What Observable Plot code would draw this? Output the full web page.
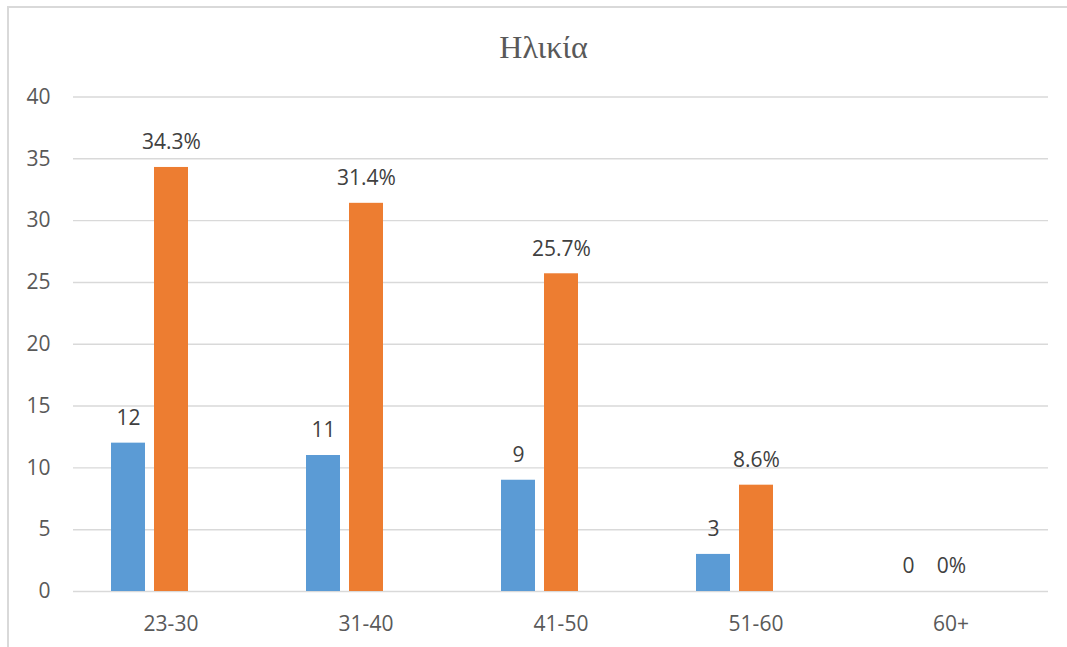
<!DOCTYPE html>
<html>
<head>
<meta charset="utf-8">
<script src="https://cdn.jsdelivr.net/npm/d3@7"></script>
<script src="https://cdn.jsdelivr.net/npm/@observablehq/plot@0.6"></script>
<style>
  body { margin: 0; background: #fff; }
  #wrap { position: relative; width: 1067px; height: 647px; overflow: hidden; background: #fff; }
  #frame { position: absolute; left: 7px; top: 6px; width: 1200px; height: 800px;
           border-top: 2px solid #d9d9d9; border-left: 2px solid #d9d9d9; box-sizing: border-box; }
  #title { position: relative; height: 39px; padding-top: 31px; padding-left: 20px; text-align: center;
           font-family: "Liberation Serif", serif; font-size: 32px; line-height: 32px; color: #595959; }
  #chart { position: relative; }
</style>
</head>
<body>
<div id="wrap">
  <div id="frame"></div>
  <div id="title">Ηλικία</div>
  <div id="chart"></div>
</div>
<script>
const categories = ["23-30", "31-40", "41-50", "51-60", "60+"];
const counts = [12, 11, 9, 3, 0];
const percents = [34.3, 31.4, 25.7, 8.6, 0];
const seriesNames = ["Αριθμός", "Ποσοστό", " "];
const yTicks = [0, 5, 10, 15, 20, 25, 30, 35, 40];
const colors = ["#5B9BD5", "#ED7D31", "#A5A5A5"];

const data = [];
categories.forEach((c, i) => {
  data.push({cat: c, series: seriesNames[0], value: counts[i], label: String(counts[i])});
  data.push({cat: c, series: seriesNames[1], value: percents[i], label: percents[i] + "%"});
});

const chart = Plot.plot({
  width: 1067,
  height: 577,
  marginTop: 26.5,
  marginBottom: 56,
  marginLeft: 72,
  marginRight: 19,
  style: {fontFamily: "'Open Sans', sans-serif", fontSize: "21px", color: "#595959", background: "transparent"},
  fx: {domain: categories, padding: 0, label: null},
  x: {domain: seriesNames, paddingInner: 0.215, paddingOuter: 0.85, axis: null},
  y: {domain: [0, 40], label: null},
  color: {domain: seriesNames, range: colors},
  marks: [
    Plot.ruleY(yTicks, {stroke: "#d9d9d9", strokeWidth: 1.4}),
    Plot.barY(data, {fx: "cat", x: "series", y: "value", fill: "series"}),
    Plot.text(data, {fx: "cat", x: "series", y: "value", text: "label", dy: -25, fill: "#404040"}),
    Plot.axisY(yTicks, {tickSize: 0, tickPadding: 23, label: null}),
    Plot.axisFx({anchor: "bottom", tickSize: 0, tickPadding: 25, label: null})
  ]
});
document.getElementById("chart").appendChild(chart);
</script>
</body>
</html>
